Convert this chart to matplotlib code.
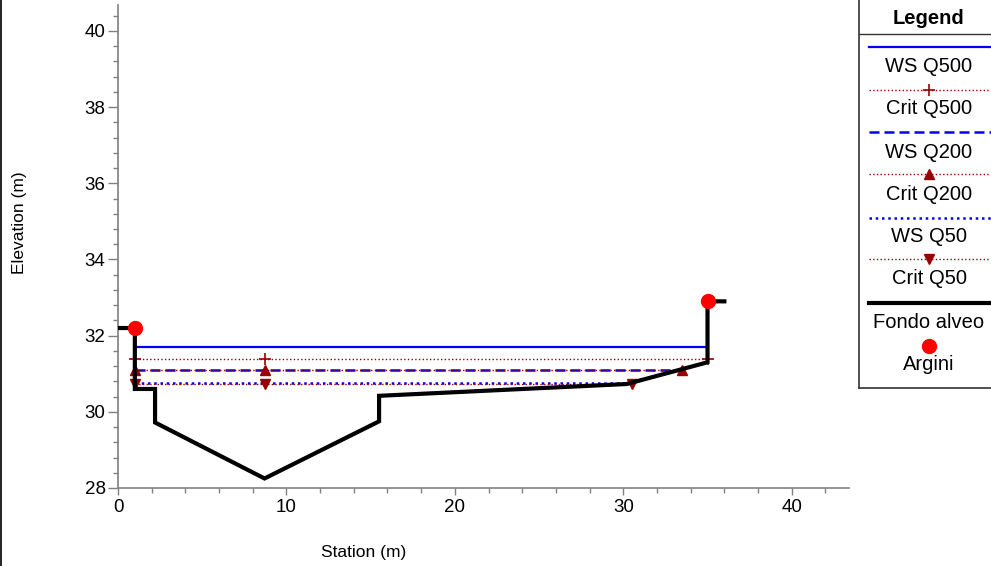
import matplotlib
matplotlib.use("Agg")
import matplotlib.pyplot as plt
from matplotlib.lines import Line2D

plt.rcParams['font.family'] = ['Liberation Sans', 'DejaVu Sans']

# ground profile (Fondo alveo)
ground_x = [0.0, 1.0, 1.0, 2.2, 2.2, 8.7, 15.5, 15.5, 30.2, 35.0, 35.0, 36.0]
ground_y = [32.2, 32.2, 30.6, 30.6, 29.72, 28.25, 29.75, 30.42, 30.73, 31.3, 32.9, 32.9]

# levees (Argini)
argini_x = [1.0, 35.0]
argini_y = [32.2, 32.9]

# water surfaces
ws_q500_x = [1.0, 35.0]
ws_q500_y = [31.7, 31.7]
ws_q200_x = [1.0, 33.5]
ws_q200_y = [31.11, 31.11]
ws_q50_x = [1.0, 30.5]
ws_q50_y = [30.76, 30.76]

# critical depths
crit_q500_x = [1.0, 8.7, 35.0]
crit_q500_y = [31.39, 31.39, 31.39]
crit_q200_x = [1.0, 8.7, 33.5]
crit_q200_y = [31.11, 31.11, 31.11]
crit_q50_x = [1.0, 8.7, 30.5]
crit_q50_y = [30.74, 30.74, 30.74]

W, H = 991, 566
fig = plt.figure(figsize=(W / 100, H / 100), dpi=100)
ax = fig.add_axes([118 / W, 1 - 488 / H, (849 - 118) / W, (488 - 5) / H])

crit_col = '#990000'
ax.plot(ws_q500_x, ws_q500_y, color='blue', lw=1.6, zorder=3)
ax.plot(crit_q500_x, crit_q500_y, color=crit_col, lw=1.0, ls=':', marker='+',
        markersize=8, markeredgewidth=1.2, zorder=4)
ax.plot(ws_q200_x, ws_q200_y, color='blue', lw=1.8, ls=(0, (4, 2)), zorder=3)
ax.plot(crit_q200_x, crit_q200_y, color=crit_col, lw=1.0, ls=':', marker='^',
        markersize=7, zorder=4)
ax.plot(ws_q50_x, ws_q50_y, color='blue', lw=1.8, ls=(0, (1, 1.5)), zorder=3)
ax.plot(crit_q50_x, crit_q50_y, color=crit_col, lw=1.0, ls=':', marker='v',
        markersize=7, zorder=4)
ax.plot(ground_x, ground_y, color='black', lw=3, solid_joinstyle='miter', zorder=5)
ax.plot(argini_x, argini_y, ls='none', marker='o', color='red', markersize=10, zorder=6)

ax.set_xlim(0, 43.4)
ax.set_ylim(28, 40.68)
ax.set_xticks(range(0, 41, 10))
ax.set_xticks(range(0, 44, 2), minor=True)
ax.set_yticks(range(28, 41, 2))
ax.set_yticks([28 + 0.4 * i for i in range(32)], minor=True)

for s in ['top', 'right']:
    ax.spines[s].set_visible(False)
for s in ['left', 'bottom']:
    ax.spines[s].set_color('#808080')
    ax.spines[s].set_linewidth(1.2)

ax.tick_params(axis='both', which='both', colors='#808080', labelcolor='black', width=1)
ax.tick_params(axis='y', which='major', length=7, labelsize=13.5, pad=2)
ax.tick_params(axis='y', which='minor', length=3.5)
ax.tick_params(axis='x', which='major', length=5, labelsize=13.5, pad=3)
ax.tick_params(axis='x', which='minor', length=3.5)

fig.text(20 / W, 1 - 223 / H, 'Elevation (m)', rotation=90, ha='center', va='center', fontsize=12.5)
fig.text(364 / W, 1 - 552 / H, 'Station (m)', ha='center', va='center', fontsize=12.5)

# left border of the figure frame
fig.add_artist(Line2D([0.5 / W, 0.5 / W], [0, 1], color='black', lw=1.2, transform=fig.transFigure))

# custom legend box
lg = fig.add_axes([859 / W, 1 - 388 / H, (W + 3 - 859) / W, 390 / H])
lg.set_xlim(859, W + 3)
lg.set_ylim(388, -2)
lg.set_xticks([])
lg.set_yticks([])
for s in lg.spines.values():
    s.set_color('#333333')
    s.set_linewidth(1.2)

cx = 929
lg.text(cx, 18, 'Legend', ha='center', va='center', fontsize=14.5, fontweight='bold')
lg.plot([859, W + 3], [34, 34], color='#333333', lw=1)

entries = [
    ('WS Q500', dict(color='blue', lw=1.6), None, 47, 66),
    ('Crit Q500', dict(color=crit_col, lw=1.0, ls=':'), '+', 90, 109),
    ('WS Q200', dict(color='blue', lw=1.8, ls=(0, (4, 2))), None, 132, 152),
    ('Crit Q200', dict(color=crit_col, lw=1.0, ls=':'), '^', 174, 194),
    ('WS Q50', dict(color='blue', lw=1.8, ls=(0, (1, 1.5))), None, 218, 237),
    ('Crit Q50', dict(color=crit_col, lw=1.0, ls=':'), 'v', 259, 279),
    ('Fondo alveo', dict(color='black', lw=3), None, 303, 323),
]
for label, style, mk, ly, ty in entries:
    lg.plot([869, W + 3], [ly, ly], **style)
    if mk == '+':
        lg.plot([cx], [ly], marker='+', color=crit_col, markersize=8, markeredgewidth=1.2)
    elif mk:
        lg.plot([cx], [ly], marker=mk, color=crit_col, markersize=7)
    lg.text(cx, ty, label, ha='center', va='center', fontsize=14.5)

lg.plot([cx], [346], marker='o', color='red', markersize=10, ls='none')
lg.text(cx, 365, 'Argini', ha='center', va='center', fontsize=14.5)

fig.savefig('out.png', dpi=100)
